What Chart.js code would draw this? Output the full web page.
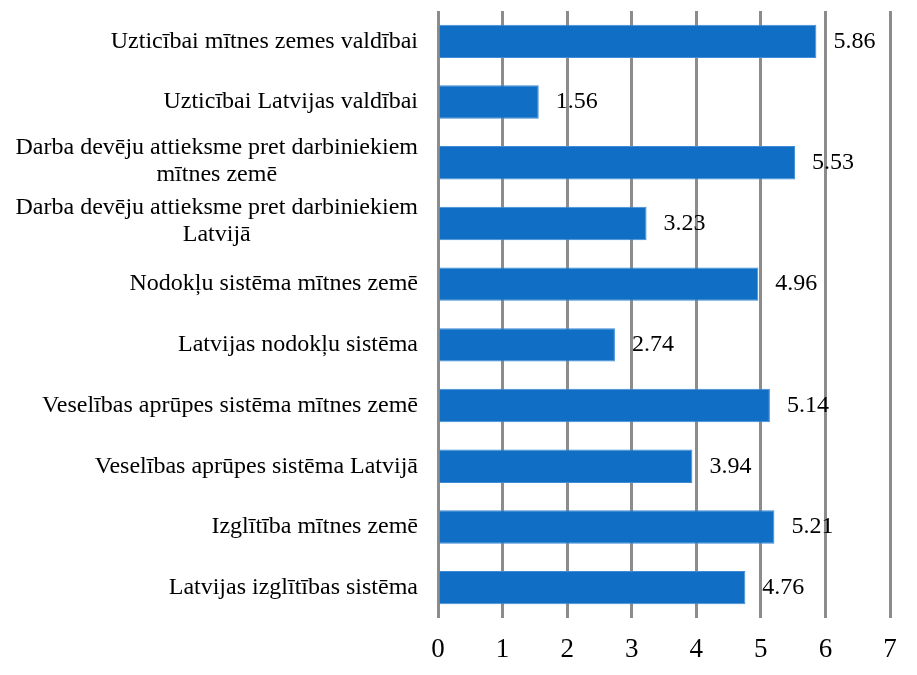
<!DOCTYPE html>
<html>
<head>
<meta charset="utf-8">
<script src="https://cdn.jsdelivr.net/npm/chart.js@4"></script>
<style>
html,body{margin:0;padding:0;background:#fff;}
#wrap{width:917px;height:675px;position:relative;}
</style>
</head>
<body>
<div id="wrap"><canvas id="c" width="917" height="675"></canvas></div>
<script>
const categories = [
  "Uzticībai mītnes zemes valdībai",
  "Uzticībai Latvijas valdībai",
  ["Darba devēju attieksme pret darbiniekiem", "mītnes zemē"],
  ["Darba devēju attieksme pret darbiniekiem", "Latvijā"],
  "Nodokļu sistēma mītnes zemē",
  "Latvijas nodokļu sistēma",
  "Veselības aprūpes sistēma mītnes zemē",
  "Veselības aprūpes sistēma Latvijā",
  "Izglītība mītnes zemē",
  "Latvijas izglītības sistēma"
];
const values = [5.86, 1.56, 5.53, 3.23, 4.96, 2.74, 5.14, 3.94, 5.21, 4.76];
const xTicks = [0, 1, 2, 3, 4, 5, 6, 7];

const FONT = "'Liberation Serif', 'Times New Roman', serif";

const labelPlugin = {
  id: 'customLabels',
  afterDatasetsDraw(chart) {
    const ctx = chart.ctx;
    const meta = chart.getDatasetMeta(0);
    const yScale = chart.scales.y;
    ctx.save();
    // value labels
    ctx.font = "24px " + FONT;
    ctx.fillStyle = "#000";
    ctx.textAlign = "left";
    ctx.textBaseline = "middle";
    meta.data.forEach((bar, i) => {
      ctx.fillText(values[i].toFixed(2), bar.x + 17, bar.y);
    });
    // category labels
    ctx.font = "24px " + FONT;
    const rightX = 418;
    const lh = 27;
    categories.forEach((lab, i) => {
      const y = yScale.getPixelForTick(i);
      const lines = Array.isArray(lab) ? lab : [lab];
      const widths = lines.map(l => ctx.measureText(l).width);
      const maxW = Math.max(...widths);
      const cx = rightX - maxW / 2;
      const yOff = lines.length > 1 ? -2 : 0;
      ctx.textAlign = "center";
      lines.forEach((l, j) => {
        const ly = y + yOff + (j - (lines.length - 1) / 2) * lh;
        ctx.fillText(l, cx, ly);
      });
    });
    ctx.restore();
  }
};

new Chart(document.getElementById('c'), {
  type: 'bar',
  data: {
    labels: categories,
    datasets: [{
      data: values,
      backgroundColor: '#106FC5',
      borderColor: '#3F8BD6',
      borderWidth: 1,
      barPercentage: 0.55,
      categoryPercentage: 1.0
    }]
  },
  options: {
    indexAxis: 'y',
    responsive: false,
    animation: false,
    layout: { padding: { top: 11, right: 27, left: 0, bottom: 0 } },
    plugins: { legend: { display: false }, tooltip: { enabled: false } },
    scales: {
      x: {
        min: 0, max: 7,
        afterBuildTicks(scale) { scale.ticks = xTicks.map(v => ({ value: v })); },
        afterFit(scale) { scale.height = 57; },
        grid: { color: '#8C8C8C', lineWidth: 3, drawTicks: false },
        border: { display: false },
        ticks: {
          padding: 16,
          color: '#000',
          font: { family: FONT, size: 27 }
        }
      },
      y: {
        afterFit(scale) { scale.width = 438; },
        grid: { display: false },
        border: { display: false },
        ticks: { display: false }
      }
    }
  },
  plugins: [labelPlugin]
});
</script>
</body>
</html>
